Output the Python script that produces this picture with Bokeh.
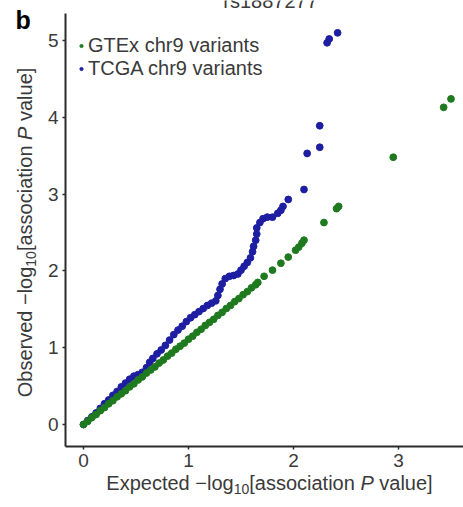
import math
from bokeh.plotting import figure
from bokeh.models import Range1d, Label, Legend, LegendItem, FixedTicker
from bokeh.embed import file_html
from bokeh.resources import INLINE

# QQ plot values: expected vs observed -log10(P), read per point
gtex_expected = [0.00, 0.04, 0.08, 0.12, 0.16, 0.20, 0.24, 0.28, 0.32, 0.36, 0.40,
                 0.44, 0.48, 0.52, 0.56, 0.60, 0.64, 0.68, 0.72, 0.76, 0.80, 0.84,
                 0.88, 0.92, 0.96, 1.00, 1.04, 1.08, 1.12, 1.16, 1.20, 1.24, 1.28,
                 1.32, 1.36, 1.40, 1.44, 1.48, 1.52, 1.56, 1.60, 1.64, 1.66, 1.72,
                 1.80, 1.88, 1.95, 2.02, 2.05, 2.08, 2.10, 2.29, 2.41, 2.43, 2.95,
                 3.43, 3.50]
gtex_observed = [0.00, 0.04, 0.09, 0.13, 0.18, 0.22, 0.27, 0.31, 0.36, 0.40, 0.44,
                 0.49, 0.53, 0.58, 0.62, 0.67, 0.71, 0.75, 0.80, 0.84, 0.89, 0.93,
                 0.98, 1.02, 1.06, 1.11, 1.15, 1.20, 1.24, 1.29, 1.33, 1.37, 1.42,
                 1.46, 1.51, 1.55, 1.60, 1.64, 1.69, 1.73, 1.78, 1.82, 1.85, 1.93,
                 2.01, 2.10, 2.18, 2.27, 2.31, 2.36, 2.40, 2.63, 2.81, 2.84, 3.48,
                 4.13, 4.24]

tcga_expected = [0.00, 0.04, 0.08, 0.12, 0.16, 0.20, 0.24, 0.28, 0.32, 0.36, 0.40,
                 0.44, 0.48, 0.52, 0.56, 0.60, 0.63, 0.66, 0.70, 0.74, 0.78, 0.82,
                 0.86, 0.90, 0.94, 0.98, 1.02, 1.06, 1.10, 1.14, 1.18, 1.22, 1.26,
                 1.28, 1.30, 1.32, 1.35, 1.39, 1.43, 1.47, 1.50, 1.53, 1.56, 1.59,
                 1.61, 1.62, 1.64, 1.65, 1.65, 1.68, 1.71, 1.75, 1.80, 1.85, 1.88,
                 1.90, 1.95, 2.10, 2.13, 2.25, 2.25, 2.32, 2.34, 2.42]
tcga_observed = [0.00, 0.05, 0.10, 0.15, 0.21, 0.27, 0.32, 0.38, 0.43, 0.49, 0.54,
                 0.59, 0.63, 0.65, 0.68, 0.74, 0.81, 0.86, 0.92, 0.97, 1.03, 1.10,
                 1.17, 1.23, 1.28, 1.34, 1.39, 1.43, 1.47, 1.51, 1.55, 1.58, 1.61,
                 1.68, 1.76, 1.83, 1.90, 1.93, 1.94, 1.96, 2.01, 2.06, 2.11, 2.17,
                 2.25, 2.32, 2.40, 2.48, 2.56, 2.63, 2.68, 2.70, 2.70, 2.75, 2.79,
                 2.84, 2.93, 3.06, 3.53, 3.61, 3.89, 4.97, 5.02, 5.10]

x_ticks = [0, 1, 2, 3]
y_ticks = [0, 1, 2, 3, 4, 5]

GREEN = "#1f7a1f"
BLUE = "#1e1ea2"
TEXT = "#3a3a3a"
AXIS = "#2b2b2b"
FONT = "Liberation Sans"

# The plotting frame fills the whole canvas; the two axes sit at fixed
# positions inside it so that the panel letter, the title and the axis
# titles can be placed freely around the data area.
X_AXIS_AT = -0.2865
Y_AXIS_AT = -0.1714

p = figure(width=463, height=507, output_backend="svg", toolbar_location=None,
           x_range=Range1d(-0.7905, 3.619), y_range=Range1d(-1.0807, 5.521),
           min_border_left=0, min_border_right=0, min_border_top=0,
           min_border_bottom=0)
p.outline_line_color = None
p.xgrid.visible = False
p.ygrid.visible = False
p.background_fill_color = "white"
p.border_fill_color = "white"

tcga = p.scatter(tcga_expected, tcga_observed, size=6.8, color=BLUE)
gtex = p.scatter(gtex_expected, gtex_observed, size=6.8, color=GREEN)

p.xaxis.fixed_location = X_AXIS_AT
p.yaxis.fixed_location = Y_AXIS_AT
p.xaxis.bounds = (Y_AXIS_AT, 3.619)
p.yaxis.bounds = (X_AXIS_AT, 5.35)

for ax in (p.xaxis[0], p.yaxis[0]):
    ax.axis_line_color = AXIS
    ax.axis_line_width = 2
    ax.major_tick_line_color = AXIS
    ax.major_tick_line_width = 1.5
    ax.major_tick_in = 0
    ax.major_tick_out = 3
    ax.minor_tick_line_color = None
    ax.major_label_text_font = FONT
    ax.major_label_text_font_size = "19px"
    ax.major_label_text_color = TEXT
    ax.major_label_standoff = 4
p.xaxis.ticker = FixedTicker(ticks=x_ticks)
p.yaxis.ticker = FixedTicker(ticks=y_ticks)

legend = Legend(items=[LegendItem(label="GTEx chr9 variants", renderers=[gtex]),
                       LegendItem(label="TCGA chr9 variants", renderers=[tcga])],
                location=(77, 427), orientation="vertical",
                label_text_font=FONT, label_text_font_size="20px",
                label_text_color=TEXT, label_height=19, glyph_height=19,
                glyph_width=8, label_standoff=3, spacing=0, padding=0, margin=0,
                border_line_alpha=0, background_fill_alpha=0)
p.add_layout(legend)

# Arial-compatible advance widths (per 1000 em) for building the axis titles
ADV = {' ': 278, '\u00a0': 278, 'E': 667, 'x': 500, 'p': 556, 'e': 556,
       'c': 500, 't': 278, 'd': 556, '\u2212': 584, 'l': 222, 'o': 556,
       'g': 556, '1': 556, '0': 556, '[': 278, 'a': 556, 's': 500, 'i': 222,
       'n': 556, 'P': 667, 'v': 500, 'u': 556, ']': 278, 'O': 778, 'b': 556,
       'r': 333, 'h': 556}


def adv(s, size):
    return sum(ADV[c] for c in s) / 1000.0 * size


def title_pieces(first, size):
    sub = size * 0.7
    return [(first + "\u00a0\u2212log", size, "normal", 0.0),
            ("10", sub, "normal", -0.3 * size),
            ("[association\u00a0", size, "normal", 0.0),
            ("P", size, "italic", 0.0),
            ("\u00a0value]", size, "normal", 0.0)]


def draw_title(first, size, center, base, vertical):
    pieces = title_pieces(first, size)
    total = sum(adv(t, s) for t, s, _, _ in pieces)
    pos = center - total / 2.0
    for t, s, style, drop in pieces:
        if vertical:
            lab = Label(x=base - drop, y=pos, angle=math.pi / 2)
        else:
            lab = Label(x=pos, y=base + drop)
        lab.x_units = "screen"
        lab.y_units = "screen"
        lab.text = t
        lab.text_font = FONT
        lab.text_font_size = f"{s:.1f}px"
        lab.text_font_style = style
        lab.text_color = TEXT
        lab.text_align = "left"
        lab.text_baseline = "alphabetic"
        p.add_layout(lab)
        pos += adv(t, s)


# screen positions measured from the lower-left corner of the canvas
draw_title("Expected", 20, 269, 25, vertical=False)
draw_title("Observed", 20, 275, 24, vertical=True)

p.add_layout(Label(x=15, y=488, x_units="screen", y_units="screen", text="b",
                   text_font=FONT, text_font_size="25px", text_font_style="bold",
                   text_color="black", text_baseline="alphabetic"))
p.add_layout(Label(x=270, y=507, x_units="screen", y_units="screen",
                   text="rs1887277", text_font=FONT, text_font_size="20px",
                   text_color=TEXT, text_align="center",
                   text_baseline="alphabetic"))

open("out.html", "w").write(file_html(p, INLINE))
